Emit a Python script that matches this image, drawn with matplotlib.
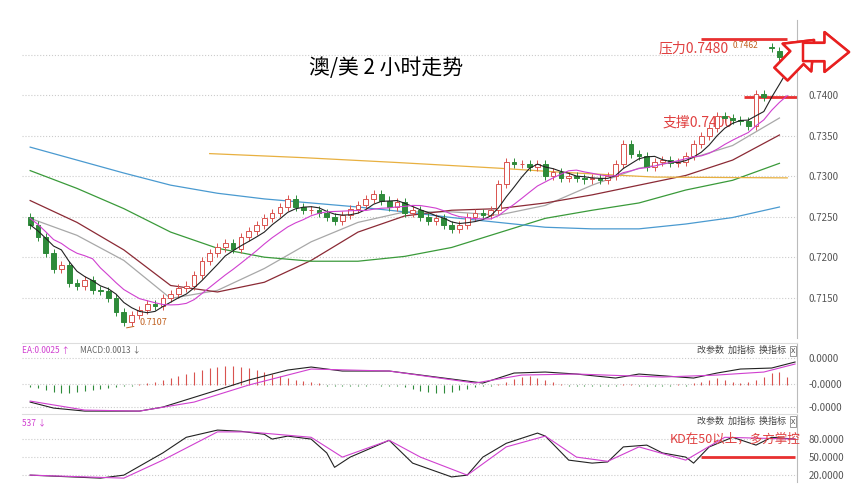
import numpy as np
import matplotlib.pyplot as plt
from matplotlib.patches import Rectangle

plt.rcParams['font.family'] = ['Noto Sans CJK SC', 'DejaVu Sans']

# 2h closes, AUD/USD
closes = [0.7240, 0.7225, 0.7205, 0.7185, 0.7190, 0.7168, 0.7165, 0.7172, 0.7160, 0.7158,
          0.7150, 0.7132, 0.7120, 0.7128, 0.7135, 0.7142, 0.7140, 0.7150, 0.7155, 0.7162,
          0.7165, 0.7178, 0.7195, 0.7205, 0.7212, 0.7218, 0.7210, 0.7225, 0.7232, 0.7240,
          0.7248, 0.7255, 0.7262, 0.7272, 0.7262, 0.7258, 0.7258, 0.7255, 0.7250, 0.7245,
          0.7252, 0.7260, 0.7265, 0.7272, 0.7278, 0.7270, 0.7262, 0.7268, 0.7255, 0.7258,
          0.7250, 0.7245, 0.7248, 0.7240, 0.7235, 0.7240, 0.7250, 0.7255, 0.7252, 0.7258,
          0.7290, 0.7318, 0.7315, 0.7315, 0.7312, 0.7315, 0.7300, 0.7305, 0.7298, 0.7300,
          0.7298, 0.7296, 0.7298, 0.7295, 0.7300, 0.7315, 0.7340, 0.7328, 0.7325, 0.7312,
          0.7318, 0.7320, 0.7316, 0.7318, 0.7325, 0.7340, 0.7350, 0.7360, 0.7375, 0.7372,
          0.7370, 0.7368, 0.7362, 0.7402, 0.7398, 0.7458, 0.7448, 0.7444]
first_open = 0.7250
gap_opens = {95: 0.7460, 96: 0.7455}  # gap-up bars after the jump

ma_idx = [0, 6, 12, 18, 24, 30, 36, 42, 48, 54, 60, 66, 72, 78, 84, 90, 96]
ma_gray = [0.7248, 0.7227, 0.7196, 0.7149, 0.7159, 0.7186, 0.7219, 0.7243, 0.7256,
           0.7256, 0.7252, 0.7264, 0.7289, 0.7310, 0.7320, 0.7338, 0.7372]
ma_maroon = [0.7270, 0.7243, 0.7209, 0.7165, 0.7157, 0.7169, 0.7196, 0.7231, 0.7251,
             0.7258, 0.7260, 0.7267, 0.7277, 0.7289, 0.7301, 0.7320, 0.7351]
ma_green = [0.7307, 0.7285, 0.7260, 0.7231, 0.7211, 0.7200, 0.7195, 0.7195, 0.7201,
            0.7212, 0.7230, 0.7248, 0.7258, 0.7267, 0.7283, 0.7295, 0.7316]
ma_blue = [0.7336, 0.7320, 0.7304, 0.7289, 0.7279, 0.7272, 0.7267, 0.7262, 0.7256,
           0.7249, 0.7243, 0.7237, 0.7235, 0.7235, 0.7241, 0.7249, 0.7262]
ma_yellow_idx = [23, 35, 47, 60, 68, 80, 97]
ma_yellow = [0.7328, 0.7323, 0.7317, 0.7310, 0.7305, 0.7299, 0.7298]

# MACD
dif_idx = [0, 3, 7, 14, 17, 24, 28, 33, 36, 40, 46, 53, 58, 62, 66, 70, 75, 78, 85, 88, 91, 95, 98]
dif = [-0.0017, -0.0023, -0.0026, -0.0026, -0.0022, -0.0005, 0.0005, 0.0015, 0.0018, 0.0014,
       0.0014, 0.0007, 0.0002, 0.0012, 0.0013, 0.0011, 0.0007, 0.0011, 0.0007, 0.0012,
       0.0016, 0.0017, 0.0023]
dea_idx = [0, 7, 14, 21, 28, 36, 46, 57, 63, 70, 81, 88, 94, 98]
dea = [-0.0016, -0.0025, -0.0026, -0.0017, 0.0000, 0.0016, 0.0014, 0.0002, 0.0010,
       0.0011, 0.0008, 0.0010, 0.0013, 0.0021]
macd_hist = [-2, -3, -5, -7, -8, -8, -7, -6, -5, -4, -3, -2, -1, -1,
             1, 2, 3, 5, 7, 9, 11, 13, 15, 17, 18, 19, 19, 18, 17, 15, 13, 11, 9, 7, 5, 4, 3, 2,
             -1, -1, -1, -1, -1, -1, 0, -1, -1, -1,
             -2, -4, -6, -7, -8, -8, -7, -5, -4, -2,
             -1, -1, 1, 3,
             6, 8, 9, 7, 5, 3,
             1, -1, -1, -1, -1, -1, -1, -1, 1, 1, -1, -1, -1, -1, -1, 1, -1,
             2, 3, 5, 7, 5, 3, 2, 3, 5, 8, 12, 13, 8]

# KD
k_idx = [0, 9, 12, 17, 20, 24, 27, 30, 31, 33, 36, 38, 39, 41, 46, 49, 54, 56, 58, 61,
         65, 66, 69, 72, 74, 76, 79, 81, 84, 85, 87, 90, 93, 95, 98]
k_val = [20, 15, 20, 57, 83, 95, 93, 88, 80, 85, 80, 57, 33, 50, 78, 40, 17, 20, 50, 73,
         90, 85, 45, 40, 42, 67, 70, 57, 50, 40, 67, 83, 70, 83, 80]
d_idx = [0, 12, 17, 24, 28, 36, 40, 46, 50, 56, 61, 66, 70, 74, 78, 84, 89, 98]
d_val = [20, 15, 45, 92, 92, 83, 50, 78, 50, 20, 67, 85, 50, 43, 67, 45, 83, 80]

fig = plt.figure(figsize=(8.51, 4.9), dpi=100)
L, W = 0.026, 0.911
ax = fig.add_axes([L, 0.310, W, 0.649])
ax2 = fig.add_axes([L, 0.159, W, 0.141])
ax3 = fig.add_axes([L, 0.016, W, 0.139])
XL = (-1.03, 98.3)

red = '#d9534f'
green = '#2e8b3a'

# candles
opens = [first_open] + closes[:-1]
for i, o in gap_opens.items():
    opens[i] = o
for i, (o, c) in enumerate(zip(opens, closes)):
    up = c >= o
    col = red if up else green
    lo, hi = min(o, c), max(o, c)
    ax.vlines(i, lo - 0.0005, hi + 0.0005, color=col, lw=0.7, zorder=3)
    ax.add_patch(Rectangle((i - 0.3, lo), 0.6, max(hi - lo, 0.00005),
                           facecolor='white' if up else col, edgecolor=col, lw=0.7, zorder=4))

s = np.array(closes)
ma5 = np.convolve(s, np.ones(5) / 5, mode='full')[:len(s)]
ma5[:4] = [s[:k + 1].mean() for k in range(4)]
ma10 = np.convolve(s, np.ones(10) / 10, mode='full')[:len(s)]
ma10[:9] = [s[:k + 1].mean() + 0.0008 for k in range(9)]
idx = np.arange(len(s))
ax.plot(idx, ma5, color='#222222', lw=0.8, zorder=5)
ax.plot(idx, ma10, color='#d040d0', lw=0.8, zorder=5)
ax.plot(ma_idx, ma_gray, color='#a8a8a8', lw=0.9)
ax.plot(ma_idx, ma_maroon, color='#8b2a35', lw=0.9)
ax.plot(ma_idx, ma_green, color='#3a9a3a', lw=0.9)
ax.plot(ma_idx, ma_blue, color='#4a9ad0', lw=0.9)
ax.plot(ma_yellow_idx, ma_yellow, color='#e8b040', lw=0.9)

ax.set_xlim(*XL)
ax.set_ylim(0.7100, 0.7493)
ax.yaxis.tick_right()
ax.set_yticks([0.7150, 0.7200, 0.7250, 0.7300, 0.7350, 0.7400, 0.7450])
ax.set_yticklabels(['0.7150', '0.7200', '0.7250', '0.7300', '0.7350', '0.7400', '0.7450'],
                   fontsize=7, color='#555555')
ax.grid(axis='y', ls=':', color='#cccccc', lw=0.8)

for a in (ax, ax2, ax3):
    a.set_xticks([])
    a.tick_params(axis='y', length=0, pad=8)
    for sp in ('top', 'left', 'bottom'):
        a.spines[sp].set_visible(False)
    a.spines['right'].set_color('#bbbbbb')
    a.set_xlim(*XL)
ax2.spines['top'].set_visible(True)
ax2.spines['top'].set_color('#dddddd')
ax3.spines['top'].set_visible(True)
ax3.spines['top'].set_color('#dddddd')

ax.text(0.47, 0.83, '澳/美 2 小时走势', transform=ax.transAxes, fontsize=15, ha='center')
ax.text(80.5, 0.7458, '压力0.7480', color='#e04040', fontsize=10, ha='left', va='center')
ax.hlines(0.7470, 86, 97, color='#e83030', lw=2)
ax.text(90, 0.7462, '0.7462', color='#c06020', fontsize=6, ha='left', va='center')
ax.text(81, 0.7366, '支撑0.7400', color='#e04040', fontsize=10, ha='left', va='center')
ax.hlines(0.7398, 91.5, 98.2, color='#e83030', lw=2)
ax.annotate('0.7107', xy=(12, 0.7112), xytext=(14, 0.7116), color='#c06020', fontsize=6.5,
            arrowprops=dict(arrowstyle='-', color='#c06020', lw=0.7))

# hollow red arrows, placed in figure pixels
arrow_style = dict(arrowstyle='simple,head_width=1.3,head_length=0.8,tail_width=0.6',
                   fc='white', ec='#e82020', lw=1.8, shrinkA=0, shrinkB=0, mutation_scale=22)
fig.add_artist(plt.annotate('', xy=(814, 450), xytext=(781, 416), xycoords='figure pixels',
                            textcoords='figure pixels', arrowprops=arrow_style,
                            annotation_clip=False))
fig.add_artist(plt.annotate('', xy=(849, 438), xytext=(803, 438), xycoords='figure pixels',
                            textcoords='figure pixels', arrowprops=arrow_style,
                            annotation_clip=False))

# MACD panel
hv = np.array(macd_hist) * 0.0001
ax2.vlines(idx, 0, hv, colors=[red if v > 0 else green for v in hv], lw=0.8)
ax2.plot(dif_idx, dif, color='#222222', lw=0.8)
ax2.plot(dea_idx, dea, color='#d040d0', lw=0.8)
ax2.set_ylim(-0.0027, 0.0042)
ax2.yaxis.tick_right()
ax2.set_yticks([0.0027, 0.0001, -0.0022])
ax2.set_yticklabels(['0.0000', '-0.0000', '-0.0000'], fontsize=7, color='#555555')
ax2.grid(axis='y', ls=':', color='#cccccc', lw=0.8)
ax2.text(0.0, 0.86, 'EA:0.0025 ↑', color='#d040d0', fontsize=6, transform=ax2.transAxes)
ax2.text(0.075, 0.86, 'MACD:0.0013 ↓', color='#666666', fontsize=6, transform=ax2.transAxes)

# KD panel
ax3.plot(k_idx, k_val, color='#222222', lw=0.8)
ax3.plot(d_idx, d_val, color='#d040d0', lw=0.8)
ax3.set_ylim(8.3, 121.7)
ax3.yaxis.tick_right()
ax3.set_yticks([20, 50, 80])
ax3.set_yticklabels(['20.0000', '50.0000', '80.0000'], fontsize=7, color='#555555')
ax3.grid(axis='y', ls=':', color='#cccccc', lw=0.8)
ax3.text(0.0, 0.84, '537 ↓', color='#d040d0', fontsize=6, transform=ax3.transAxes)
ax3.text(82, 80, 'KD在50以上，多方掌控', color='#e04040', fontsize=9, ha='left', va='center')
ax3.hlines(50, 86, 98, color='#e83030', lw=2)

for a in (ax2, ax3):
    a.text(0.985, 0.86, '改参数  加指标  换指标', fontsize=6.5, color='#444444',
           ha='right', transform=a.transAxes)
    a.text(0.997, 0.86, 'X', fontsize=5.5, color='#444444', ha='right', transform=a.transAxes,
           bbox=dict(boxstyle='square,pad=0.15', fc='white', ec='#888888', lw=0.6))

plt.savefig('out.png', dpi=100)
